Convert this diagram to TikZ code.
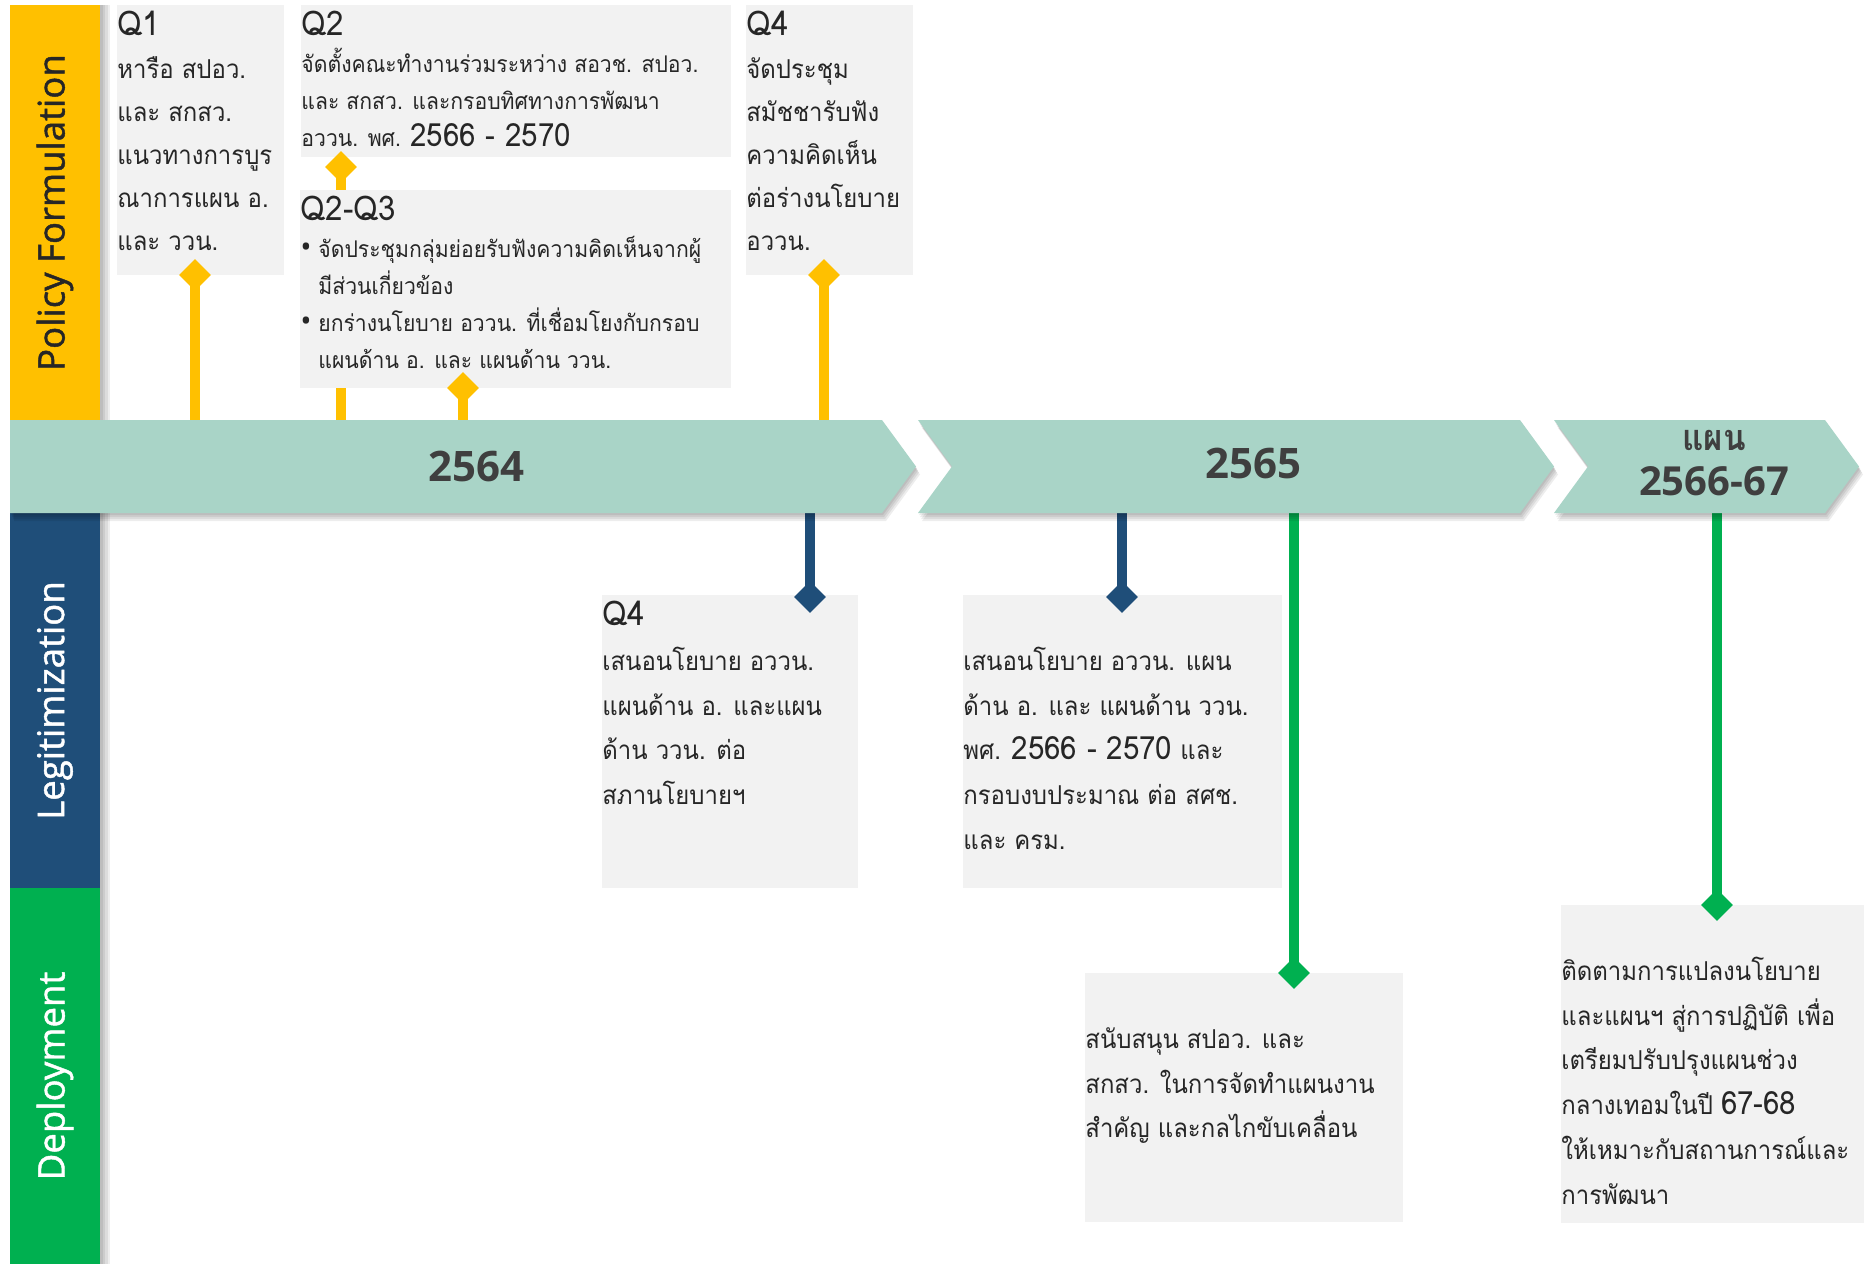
\documentclass[tikz,border=0pt]{standalone}
\usepackage{fontspec}
\setmainfont{Open Sans}
\newfontfamily\thaifont[Script=Thai, FakeStretch=0.92]{Loma}
\newfontfamily\bandfont[FakeBold=1.2]{Open Sans}
\usetikzlibrary{shapes.geometric}

\definecolor{pfyellow}{HTML}{FFC000}
\definecolor{lgblue}{HTML}{1F4E79}
\definecolor{dpgreen}{HTML}{00B050}
\definecolor{chevteal}{HTML}{A9D4C7}
\definecolor{boxgray}{HTML}{F2F2F2}
\definecolor{yeargray}{HTML}{3F3F3F}

\pgfdeclarelayer{back}
\pgfsetlayers{back,main}

\newcommand\fl{\rule{0pt}{15pt}}
\newcommand\qh[1]{{\fontsize{17}{17}\selectfont #1}}
\newcommand\nm[1]{{\fontsize{16}{16}\selectfont #1}}
\newcommand\bul{\makebox[9pt][l]{\normalfont\fontsize{15}{15}\selectfont\textbullet}}

\tikzset{
  band/.style={inner sep=0pt, minimum width=45pt, font=\bandfont\fontsize{18.3}{18.3}\selectfont},
  softshade/.style={fill=black, opacity=0.07},
  chev/.style={fill=chevteal},
  chevA/.style={insert path={(10,420) -- (882,420) -- (916,466.5) -- (882,513) -- (10,513) -- cycle}},
  chevB/.style={insert path={(918,420) -- (1520,420) -- (1554,466.5) -- (1520,513) -- (918,513) -- (952,466.5) -- cycle}},
  chevC/.style={insert path={(1554,420) -- (1825,420) -- (1859,466.5) -- (1825,513) -- (1554,513) -- (1588,466.5) -- cycle}},
  year/.style={inner sep=0pt, text=yeargray, font=\bfseries\fontsize{21}{19}\selectfont},
  gbox/.style={fill=boxgray, inner sep=0pt, anchor=north west},
  boxtext/.style={anchor=north west, inner sep=0pt, align=left, text=black!85,
    font=\thaifont\fontsize{13}{21.5}\selectfont},
  lowtext/.style={boxtext, font=\thaifont\fontsize{13}{22.4}\selectfont},
  smalltext/.style={boxtext, font=\thaifont\fontsize{11.5}{18.5}\selectfont},
  knob/.style={diamond, minimum width=16pt, minimum height=16pt, inner sep=0pt, fill=#1},
  stem/.style={line width=5pt, draw=#1}
}

\begin{document}
\begin{tikzpicture}[x=0.5pt, y=-0.5pt]
\useasboundingbox (0,0) rectangle (1870,1264);
\begin{pgfonlayer}{back}
\fill[white] (0,0) rectangle (1870,1264);
\end{pgfonlayer}

% left column
\foreach \s in {1,...,4}
  \fill[softshade] (100,5) rectangle (100+2.5*\s,1264);
\node[band, fill=pfyellow, minimum height=207.5pt, text=black!85] (pf) at (55,212.5) {\rotatebox{90}{Policy Formulation}};
\node[band, fill=lgblue, minimum height=187.5pt, text=white] (lg) at (55,700.5) {\rotatebox{90}{Legitimization}};
\node[band, fill=dpgreen, minimum height=188pt, text=white] (dp) at (55,1076) {\rotatebox{90}{Deployment}};

% time line
\coordinate (tltop) at (0,420);
\coordinate (tlbot) at (0,513);
\foreach \s in {1,...,4} {
  \fill[softshade, shift={(\s,2*\s)}, chevA];
  \fill[softshade, shift={(\s,2*\s)}, chevB];
  \fill[softshade, shift={(\s,2*\s)}, chevC];
}
\path[chev, chevA];
\path[chev, chevB];
\path[chev, chevC];
\node[year] (y64) at (476,466) {2564};
\node[year] (y65) at (1253,463) {2565};
\node[year, font=\thaifont\bfseries\fontsize{18}{18}\selectfont] (y66a) at (1714,440) {แผน};
\node[year, font=\bfseries\fontsize{20}{20}\selectfont] (y66b) at (1714,481) {2566-67};

% boxes
\node[gbox, minimum width=83.5pt, minimum height=135pt] (q1) at (117,5) {};
\node[gbox, minimum width=215pt, minimum height=76pt] (q2) at (301,5) {};
\node[gbox, minimum width=215.5pt, minimum height=99pt] (q23) at (300,190) {};
\node[gbox, minimum width=83.5pt, minimum height=135pt] (q4) at (746,5) {};
\node[gbox, minimum width=128pt, minimum height=146.5pt] (lq4) at (602,595) {};
\node[gbox, minimum width=159.5pt, minimum height=146.5pt] (l65) at (963,595) {};
\node[gbox, minimum width=159pt, minimum height=124.5pt] (d65) at (1085,973) {};
\node[gbox, minimum width=151.5pt, minimum height=159pt] (d66) at (1561,905) {};

\node[boxtext] (q1t) at (q1.north west) {\fl\qh{Q1}\\หารือ สปอว.\\และ สกสว.\\แนวทางการบูร\\ณาการแผน อ.\\และ ววน.};
\node[smalltext] (q2t) at (q2.north west) {\fl\qh{Q2}\\จัดตั้งคณะทำงานร่วมระหว่าง สอวช. สปอว.\\และ สกสว. และกรอบทิศทางการพัฒนา\\อววน. พศ. \nm{2566 - 2570}};
\node[smalltext] (q23t) at (q23.north west) {\fl\qh{Q2-Q3}\\\bul จัดประชุมกลุ่มย่อยรับฟังความคิดเห็นจากผู้\\\hspace*{9pt}มีส่วนเกี่ยวข้อง\\\bul ยกร่างนโยบาย อววน. ที่เชื่อมโยงกับกรอบ\\\hspace*{9pt}แผนด้าน อ. และ แผนด้าน ววน.};
\node[boxtext] (q4t) at (q4.north west) {\fl\qh{Q4}\\จัดประชุม\\สมัชชารับฟัง\\ความคิดเห็น\\ต่อร่างนโยบาย\\อววน.};
\node[lowtext] (lq4t) at (lq4.north west) {\fl\qh{Q4}\\เสนอนโยบาย อววน.\\แผนด้าน อ. และแผน\\ด้าน ววน. ต่อ\\สภานโยบายฯ};
\node[lowtext] (l65t) at (l65.north west) {\fl\\เสนอนโยบาย อววน. แผน\\ด้าน อ. และ แผนด้าน ววน.\\พศ. \nm{2566 - 2570} และ\\กรอบงบประมาณ ต่อ สศช.\\และ ครม.};
\node[lowtext] (d65t) at (d65.north west) {\fl\\สนับสนุน สปอว. และ\\สกสว. ในการจัดทำแผนงาน\\สำคัญ และกลไกขับเคลื่อน};
\node[lowtext] (d66t) at (d66.north west) {\fl\\ติดตามการแปลงนโยบาย\\และแผนฯ สู่การปฏิบัติ เพื่อ\\เตรียมปรับปรุงแผนช่วง\\กลางเทอมในปี \nm{67-68}\\ให้เหมาะกับสถานการณ์และ\\การพัฒนา};

% diamonds
\node[knob=pfyellow] (k1) at (195,275) {};
\node[knob=pfyellow] (k2) at (341,167) {};
\node[knob=pfyellow] (k3) at (463,388) {};
\node[knob=pfyellow] (k4) at (824,275) {};
\node[knob=lgblue] (k5) at (810,597) {};
\node[knob=lgblue] (k6) at (1122,597) {};
\node[knob=dpgreen] (k7) at (1294,973) {};
\node[knob=dpgreen] (k8) at (1717,905) {};

% connectors
\begin{pgfonlayer}{back}
\draw[stem=pfyellow] (k1.center) -- (k1 |- tltop);
\draw[stem=pfyellow] (k2.center) -- (k2 |- tltop);
\draw[stem=pfyellow] (k3.center) -- (k3 |- tltop);
\draw[stem=pfyellow] (k4.center) -- (k4 |- tltop);
\draw[stem=lgblue] (k5.center) -- (k5 |- tlbot);
\draw[stem=lgblue] (k6.center) -- (k6 |- tlbot);
\draw[stem=dpgreen] (k7.center) -- (k7 |- tlbot);
\draw[stem=dpgreen] (k8.center) -- (k8 |- tlbot);
\end{pgfonlayer}
\end{tikzpicture}
\end{document}
